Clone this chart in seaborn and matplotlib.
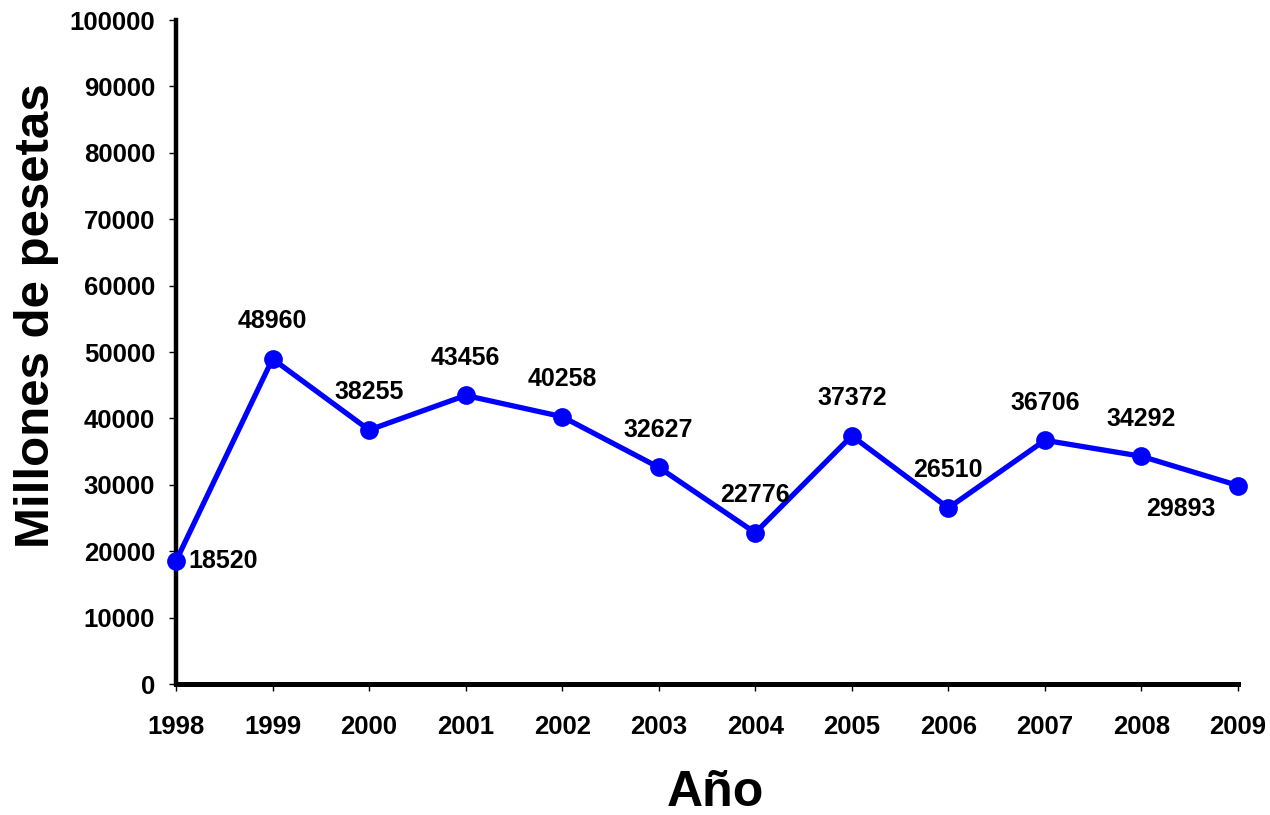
import matplotlib
matplotlib.use("Agg")
import matplotlib.pyplot as plt
import seaborn as sns
import pandas as pd

years = [1998, 1999, 2000, 2001, 2002, 2003, 2004, 2005, 2006, 2007, 2008, 2009]
values = [18520, 48960, 38255, 43456, 40258, 32627, 22776, 37372, 26510, 36706, 34292, 29893]
y_ticks = [0, 10000, 20000, 30000, 40000, 50000, 60000, 70000, 80000, 90000, 100000]

sns.set_theme(style="white")
plt.rcParams["font.family"] = ["Liberation Sans", "DejaVu Sans"]
plt.rcParams["font.weight"] = "bold"
plt.rcParams["text.color"] = "black"
plt.rcParams["xtick.color"] = "black"
plt.rcParams["ytick.color"] = "black"
plt.rcParams["axes.labelcolor"] = "black"

df = pd.DataFrame({"Año": years, "Millones de pesetas": values})

fig = plt.figure(figsize=(12.7, 8.15), dpi=100)
ax = fig.add_axes([176 / 1270, 131 / 815, (1238 - 176) / 1270, (684 - 20) / 815])

sns.lineplot(data=df, x="Año", y="Millones de pesetas", ax=ax, color="#0000FF",
             linewidth=3.8, marker="o", markersize=13.5, markeredgewidth=0,
             clip_on=False, zorder=5)

ax.set_xlim(1998, 2009)
ax.set_ylim(0, 100000)
ax.set_xticks(years)
ax.set_xticklabels([str(y) for y in years], fontsize=18.5, fontweight="bold")
ax.set_yticks(y_ticks)
ax.set_yticklabels([str(v) for v in y_ticks], fontsize=18.5, fontweight="bold")
ax.tick_params(axis="x", direction="out", length=5, width=1, pad=17,
               bottom=True, labelcolor="black")
ax.tick_params(axis="y", direction="out", length=5, width=1, pad=10,
               left=True, labelcolor="black")

for side in ["top", "right"]:
    ax.spines[side].set_visible(False)
ax.spines["left"].set_linewidth(3.2)
ax.spines["bottom"].set_linewidth(3.6)
ax.spines["left"].set_color("black")
ax.spines["bottom"].set_color("black")
ax.set_xlabel("")
ax.set_ylabel("")

# value labels: most sit above their marker
offsets = {1998: (9, 0, "left", "center"), 2009: (-41, -17, "center", "center")}
for x, v in zip(years, values):
    dx, dy, ha, va = offsets.get(x, (0, 27, "center", "center"))
    ax.annotate(str(v), (x, v), xytext=(dx, dy), textcoords="offset points",
                ha=ha, va=va, fontsize=18, fontweight="bold", color="black",
                annotation_clip=False, zorder=6)

fig.text(37 / 1270, 1 - 316 / 815, "Millones de pesetas", rotation=90,
         ha="center", va="center", fontsize=35.5, fontweight="bold", color="black")
fig.text(715 / 1270, 1 - 793 / 815, "Año", ha="center", va="center",
         fontsize=36, fontweight="bold", color="black")

fig.savefig("out.png", dpi=100, facecolor="white")
